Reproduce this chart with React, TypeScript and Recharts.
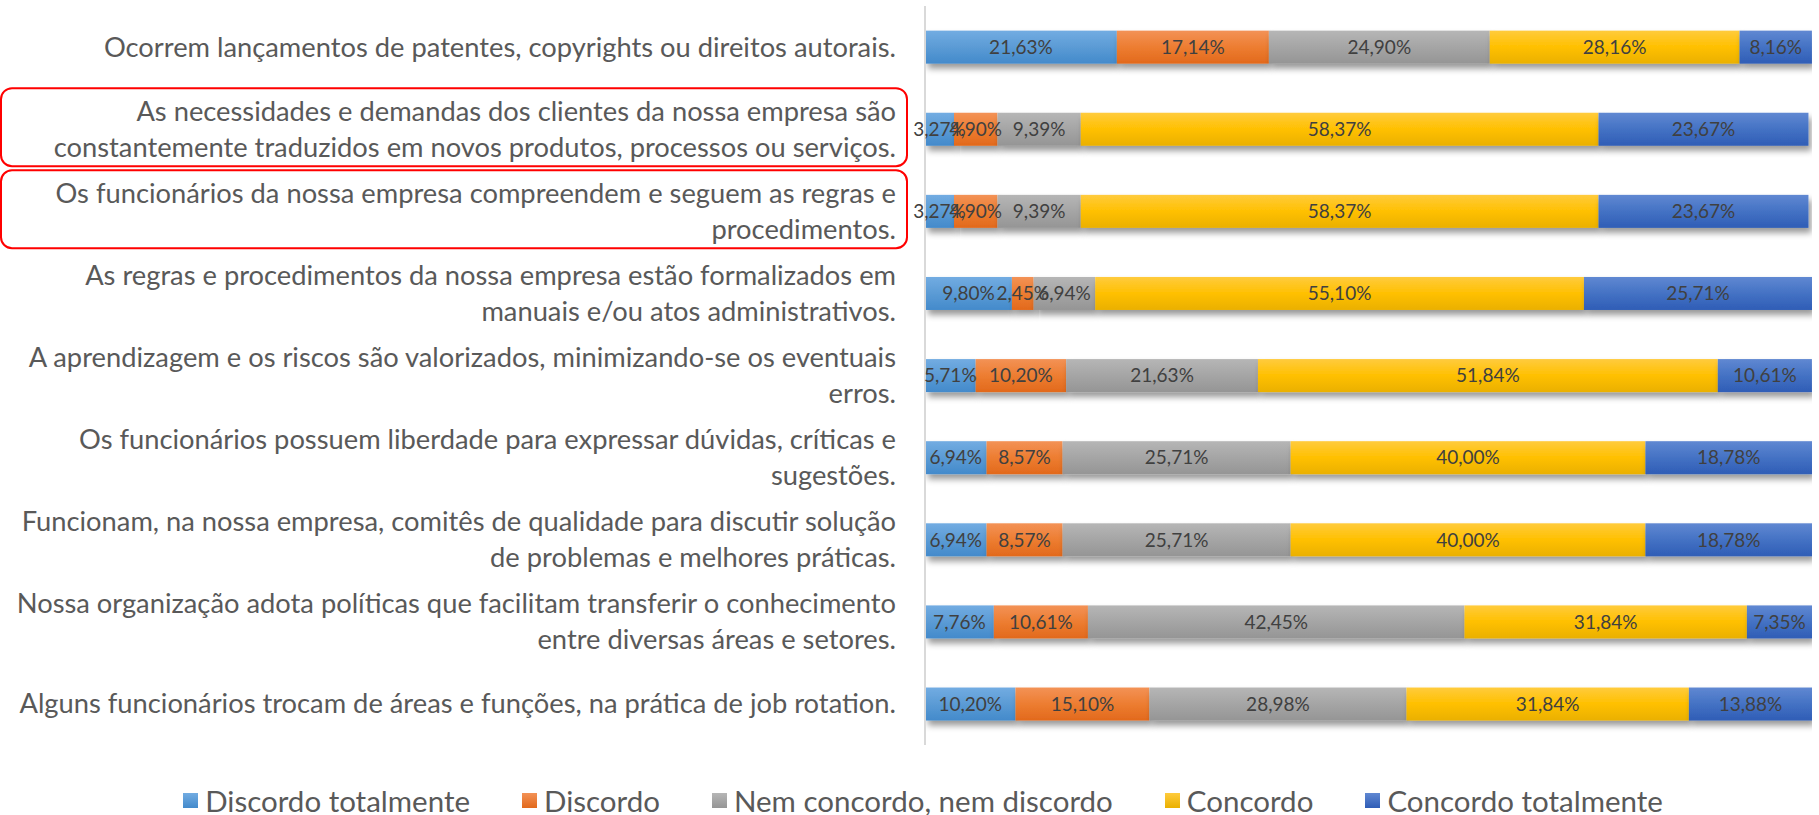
import { BarChart, Bar, XAxis, YAxis, Legend, LabelList } from "recharts";

const categoryLines: string[][] = [
  ["Ocorrem lançamentos de patentes, copyrights ou direitos autorais."],
  ["As necessidades e demandas dos clientes da nossa empresa são", "constantemente traduzidos em novos produtos, processos ou serviços."],
  ["Os funcionários da nossa empresa compreendem e seguem as regras e", "procedimentos."],
  ["As regras e procedimentos da nossa empresa estão formalizados em", "manuais e/ou atos administrativos."],
  ["A aprendizagem e os riscos são valorizados, minimizando-se os eventuais", "erros."],
  ["Os funcionários possuem liberdade para expressar dúvidas, críticas e", "sugestões."],
  ["Funcionam, na nossa empresa, comitês de qualidade para discutir solução", "de problemas e melhores práticas."],
  ["Nossa organização adota políticas que facilitam transferir o conhecimento", "entre diversas áreas e setores."],
  ["Alguns funcionários trocam de áreas e funções, na prática de job rotation."],
];
const highlighted = [1, 2];

const discordoTotalmente = [21.63, 3.27, 3.27, 9.8, 5.71, 6.94, 6.94, 7.76, 10.2];
const discordo = [17.14, 4.9, 4.9, 2.45, 10.2, 8.57, 8.57, 10.61, 15.1];
const nemConcordo = [24.9, 9.39, 9.39, 6.94, 21.63, 25.71, 25.71, 42.45, 28.98];
const concordo = [28.16, 58.37, 58.37, 55.1, 51.84, 40.0, 40.0, 31.84, 31.84];
const concordoTotalmente = [8.16, 23.67, 23.67, 25.71, 10.61, 18.78, 18.78, 7.35, 13.88];

const seriesNames = [
  "Discordo totalmente",
  "Discordo",
  "Nem concordo, nem discordo",
  "Concordo",
  "Concordo totalmente",
];
const seriesValues = [discordoTotalmente, discordo, nemConcordo, concordo, concordoTotalmente];
// top / middle / bottom of each bar gradient
const gradients = [
  ["#72ACE2", "#5B9BD5", "#438ACB"],
  ["#F39256", "#ED7D31", "#E2691C"],
  ["#B6B6B6", "#A5A5A5", "#959595"],
  ["#FFCB3D", "#FFC000", "#EAB000"],
  ["#6088D2", "#4472C4", "#2F5DB6"],
];

const data = categoryLines.map((lines, i) => {
  const row: Record<string, any> = { name: lines.join(" ") };
  seriesNames.forEach((s, k) => (row["s" + k] = seriesValues[k][i]));
  return row;
});

const FONT = "Lato, 'Open Sans', sans-serif";

const fmt = (v: any) => Number(v).toFixed(2).replace(".", ",") + "%";

function LabelTick(props: any) {
  const { x, y, payload } = props;
  const idx = data.findIndex((d) => d.name === payload.value);
  const lines = categoryLines[idx] ?? [String(payload.value)];
  const lh = 36;
  const start = y - ((lines.length - 1) * lh) / 2;
  return (
    <g>
      {highlighted.includes(idx) && (
        <rect
          x={1}
          y={y - 41}
          width={x + 10}
          height={78}
          rx={11}
          fill="none"
          stroke="#FF0000"
          strokeWidth={2}
        />
      )}
      <text
        x={x}
        y={start}
        textAnchor="end"
        fill="#595959"
        fontSize={27.3}
        fontFamily={FONT}
      >
        {lines.map((l, i) => (
          <tspan key={i} x={x} y={start + i * lh} dy="0.35em">
            {l}
          </tspan>
        ))}
      </text>
    </g>
  );
}

function ShadowBar(props: any) {
  const { x, y, width, height, fill } = props;
  if (!width || width <= 0) return null;
  return (
    <rect x={x} y={y} width={width} height={height} fill={fill} filter="url(#barShadow)" />
  );
}

function LegendContent() {
  return (
    <div
      style={{
        display: "flex",
        justifyContent: "center",
        alignItems: "center",
        paddingTop: 40,
        paddingLeft: 34,
        height: 30,
        fontFamily: FONT,
        fontSize: 29.5,
        color: "#595959",
      }}
    >
      {seriesNames.map((s, k) => (
        <div key={s} style={{ display: "flex", alignItems: "center", marginRight: k < 4 ? 52 : 0 }}>
          <div
            style={{
              width: 15,
              height: 15,
              marginRight: 7,
              background: `linear-gradient(${gradients[k][0]}, ${gradients[k][2]})`,
            }}
          />
          <span>{s}</span>
        </div>
      ))}
    </div>
  );
}

export default function App() {
  return (
    <div style={{ position: "absolute", left: 0, top: 0, background: "#fff" }}>
      <BarChart
        width={1819}
        height={815}
        data={data}
        layout="vertical"
        barCategoryGap="30%"
        margin={{ top: 6, right: 7, left: 0, bottom: 0 }}
      >
        <defs>
          {gradients.map((g, k) => (
            <linearGradient key={k} id={"g" + k} x1="0" y1="0" x2="0" y2="1">
              <stop offset="0%" stopColor={g[0]} />
              <stop offset="50%" stopColor={g[1]} />
              <stop offset="100%" stopColor={g[2]} />
            </linearGradient>
          ))}
          <filter id="barShadow" x="-10%" y="-20%" width="130%" height="160%">
            <feDropShadow dx={3} dy={5} stdDeviation={3} floodColor="#000" floodOpacity={0.4} />
          </filter>
        </defs>
        <XAxis type="number" domain={[0, 100]} hide allowDataOverflow />
        <YAxis
          type="category"
          dataKey="name"
          width={925}
          tickLine={false}
          tickSize={0}
          tickMargin={29}
          axisLine={{ stroke: "#D9D9D9", strokeWidth: 2 }}
          tick={<LabelTick />}
          interval={0}
        />
        <Legend verticalAlign="bottom" content={<LegendContent />} />
        {seriesNames.map((s, k) => (
          <Bar
            key={s}
            dataKey={"s" + k}
            name={s}
            stackId="a"
            fill={`url(#g${k})`}
            shape={<ShadowBar />}
            isAnimationActive={false}
          >
            <LabelList
              dataKey={"s" + k}
              position="center"
              formatter={fmt}
              fill="#404040"
              fontSize={19}
              fontFamily={FONT}
            />
          </Bar>
        ))}
      </BarChart>
    </div>
  );
}
